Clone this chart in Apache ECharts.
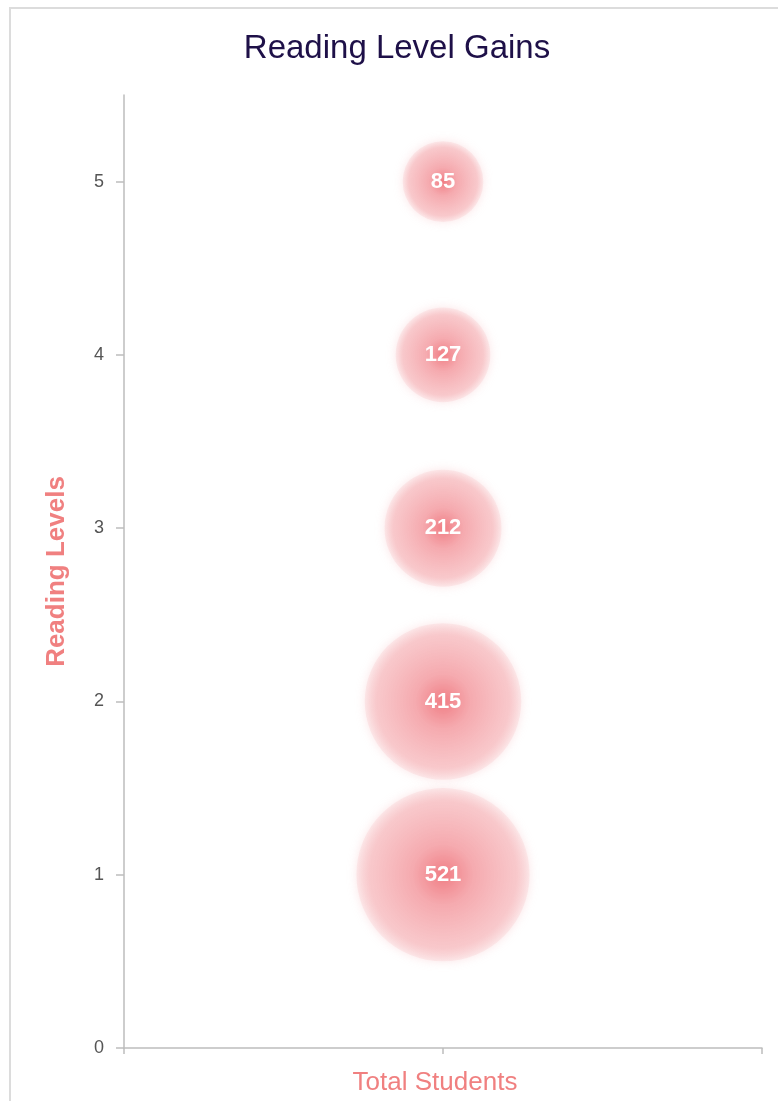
<!DOCTYPE html>
<html>
<head>
<meta charset="utf-8">
<script src="https://cdn.jsdelivr.net/npm/echarts@6/dist/echarts.min.js"></script>
<style>
html,body{margin:0;padding:0;background:#fff;overflow:hidden;}
#frame{position:absolute;left:9px;top:7px;width:776px;height:1110px;border:2px solid #dcdcdc;box-sizing:border-box;}
#chart{position:absolute;left:0;top:0;width:772px;height:1106px;}
</style>
</head>
<body>
<div id="frame"><div id="chart"></div></div>
<script>
var levels = [1, 2, 3, 4, 5];
var students = [521, 415, 212, 127, 85];
var yTicks = [0, 1, 2, 3, 4, 5];
var xCategory = 'Total Students';

var chart = echarts.init(document.getElementById('chart'));
var data = levels.map(function (l, i) { return [1, l, students[i]]; });

var bubbleColor = {
  type: 'radial', x: 0.5, y: 0.5, r: 0.5,
  colorStops: [
    {offset: 0, color: 'rgba(240,125,132,1)'},
    {offset: 0.35, color: 'rgba(245,168,173,0.95)'},
    {offset: 0.85, color: 'rgba(248,198,201,0.85)'},
    {offset: 1, color: 'rgba(250,218,220,0.5)'}
  ]
};

chart.setOption({
  animation: false,
  title: {
    text: 'Reading Level Gains',
    left: 'center',
    top: 18,
    textStyle: {fontFamily: 'Liberation Sans, Arial, sans-serif', fontSize: 33, fontWeight: 'normal', color: '#1e1048'}
  },
  grid: {left: 113, right: 21, top: 86, bottom: 67, containLabel: false},
  xAxis: {
    type: 'value', min: 0, max: 2, interval: 1,
    name: xCategory, nameLocation: 'middle', nameGap: 22,
    nameTextStyle: {fontFamily: 'Liberation Sans, Arial, sans-serif', fontSize: 26, color: '#f08080', padding: [0, 16, 0, 0]},
    axisLine: {show: true, lineStyle: {color: '#bdbdbd', width: 1.5}},
    axisTick: {show: true, length: 6, lineStyle: {color: '#bdbdbd', width: 1.5}},
    axisLabel: {show: false},
    splitLine: {show: false}
  },
  yAxis: {
    type: 'value', min: 0, max: 5.5, interval: 1,
    name: 'Reading Levels', nameLocation: 'middle', nameGap: 54,
    nameTextStyle: {fontFamily: 'Liberation Sans, Arial, sans-serif', fontSize: 26, fontWeight: 'bold', color: '#f08080'},
    axisLine: {show: true, lineStyle: {color: '#bdbdbd', width: 1.5}},
    axisTick: {show: true, length: 8, customValues: yTicks, lineStyle: {color: '#bdbdbd', width: 1.5}},
    axisLabel: {customValues: yTicks, margin: 20, fontFamily: 'Liberation Sans, Arial, sans-serif', fontSize: 18, color: '#555'},
    splitLine: {show: false}
  },
  series: [{
    type: 'scatter',
    data: data,
    symbolSize: function (v) { return 18 + 6.8 * Math.sqrt(v[2]); },
    itemStyle: {color: bubbleColor, shadowBlur: 10, shadowColor: 'rgba(245,170,175,0.6)', opacity: 1},
    label: {
      show: true, position: 'inside',
      formatter: function (p) { return p.value[2]; },
      fontFamily: 'Liberation Sans, Arial, sans-serif', fontSize: 22, fontWeight: 'bold', color: '#fff'
    }
  }]
});
</script>
</body>
</html>
